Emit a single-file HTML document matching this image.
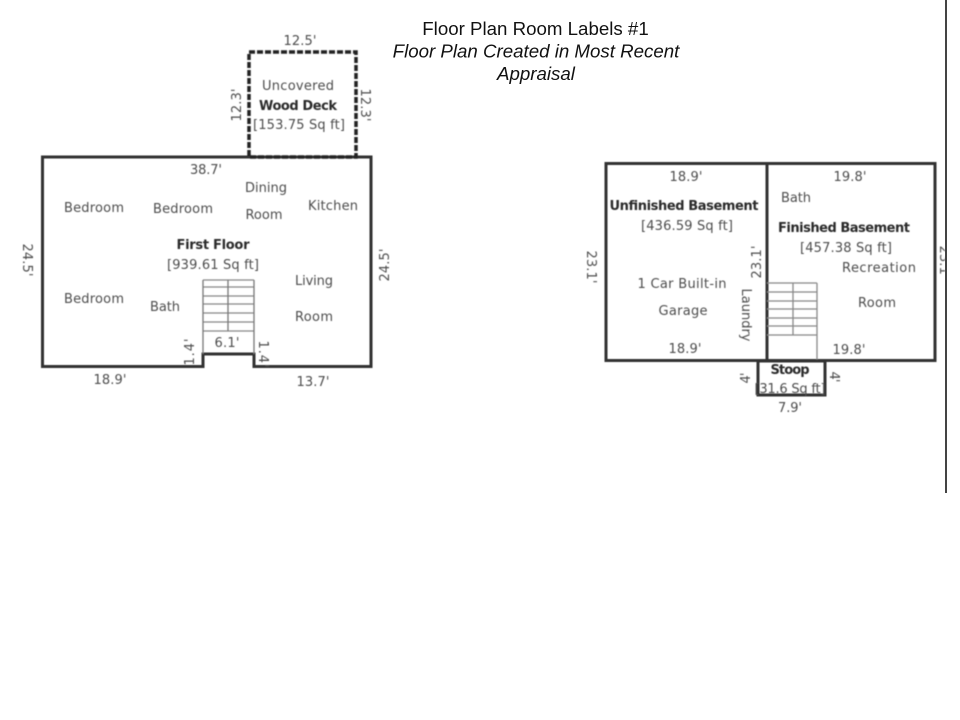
<!DOCTYPE html>
<html>
<head>
<meta charset="utf-8">
<style>
html,body{margin:0;padding:0;background:#fff;width:960px;height:720px;overflow:hidden}
svg{display:block}
.t{font-family:"DejaVu Sans",sans-serif;font-size:13px;fill:#4d4d4d;text-anchor:middle}
.b{font-weight:bold;fill:#2b2b2b}
.h{font-family:"Liberation Sans",sans-serif;font-size:18.7px;fill:#111;text-anchor:middle}
</style>
</head>
<body>
<svg width="960" height="720" viewBox="0 0 960 720" xmlns="http://www.w3.org/2000/svg">
<defs>
<filter id="s" x="-5%" y="-5%" width="110%" height="110%"><feGaussianBlur stdDeviation="0.65"/></filter>
<clipPath id="c"><rect x="930" y="200" width="15" height="120"/></clipPath>
</defs>
<rect width="960" height="720" fill="#fff"/>

<text class="h" x="535.500" y="35">Floor Plan Room Labels #1</text>
<text class="h" x="536" y="57.500" font-style="italic">Floor Plan Created in Most Recent</text>
<text class="h" x="536" y="80" font-style="italic">Appraisal</text>

<line x1="946" y1="0" x2="946" y2="493" stroke="#444" stroke-width="2"/>

<g filter="url(#s)">
  <!-- First floor -->
  <path d="M42.500 157H371V366.500H254V354H203V366.500H42.500Z" fill="none" stroke="#333" stroke-width="3"/>
  <rect x="249" y="52" width="107" height="105" fill="none" stroke="#222" stroke-width="3.500" stroke-dasharray="6 2"/>
  <path d="M203 280H254M203 287H254M203 296H254M203 304H254M203 313H254M203 322H254M203 331H254" stroke="#888" stroke-width="1.300"/>
  <path d="M203 280V354M254 280V354M228 280V331" stroke="#777" stroke-width="1.300" fill="none"/>

  <text class="t" x="300" y="45" textLength="33">12.5'</text>
  <text class="t" x="298" y="90" textLength="72">Uncovered</text>
  <text class="t b" x="298" y="110" textLength="78">Wood Deck</text>
  <text class="t" x="299" y="129" textLength="92">[153.75 Sq ft]</text>
  <text class="t" transform="translate(241 105) rotate(-90)" textLength="33">12.3'</text>
  <text class="t" transform="translate(361 105) rotate(90)" textLength="33">12.3'</text>
  <text class="t" x="206" y="174" textLength="32">38.7'</text>
  <text class="t" x="266" y="192" textLength="42">Dining</text>
  <text class="t" x="264" y="219" textLength="37">Room</text>
  <text class="t" x="333" y="210" textLength="50">Kitchen</text>
  <text class="t" x="94" y="212" textLength="60">Bedroom</text>
  <text class="t" x="183" y="213" textLength="60">Bedroom</text>
  <text class="t b" x="213" y="249" textLength="73">First Floor</text>
  <text class="t" x="213" y="269" textLength="92">[939.61 Sq ft]</text>
  <text class="t" x="314" y="285" textLength="38">Living</text>
  <text class="t" x="314" y="321" textLength="38">Room</text>
  <text class="t" x="94" y="303" textLength="60">Bedroom</text>
  <text class="t" x="165" y="311" textLength="30">Bath</text>
  <text class="t" x="227" y="347" textLength="25">6.1'</text>
  <text class="t" transform="translate(194 352) rotate(-90)" textLength="27">1.4'</text>
  <text class="t" transform="translate(259 354) rotate(90)" textLength="27">1.4'</text>
  <text class="t" x="110" y="384" textLength="33">18.9'</text>
  <text class="t" x="313" y="386" textLength="33">13.7'</text>
  <text class="t" transform="translate(23 260) rotate(90)" textLength="33">24.5'</text>
  <text class="t" transform="translate(389 265) rotate(-90)" textLength="33">24.5'</text>

  <!-- Basement -->
  <rect x="606" y="163.500" width="329" height="197" fill="none" stroke="#333" stroke-width="3"/>
  <line x1="767" y1="163" x2="767" y2="361" stroke="#333" stroke-width="3"/>
  <path d="M767 283H817M767 292H817M767 301H817M767 309H817M767 318H817M767 326H817M767 335H817" stroke="#888" stroke-width="1.300"/>
  <path d="M817 283V360M793 283V335" stroke="#888" stroke-width="1.300" fill="none"/>
  <rect x="758" y="361" width="67" height="34" fill="none" stroke="#333" stroke-width="3"/>

  <text class="t" x="686" y="181" textLength="33">18.9'</text>
  <text class="t" x="850" y="181" textLength="33">19.8'</text>
  <text class="t" x="796" y="202" textLength="30">Bath</text>
  <text class="t b" x="684" y="210" textLength="149">Unfinished Basement</text>
  <text class="t" x="687" y="230" textLength="92">[436.59 Sq ft]</text>
  <text class="t b" x="844" y="232" textLength="132">Finished Basement</text>
  <text class="t" x="846" y="252" textLength="92">[457.38 Sq ft]</text>
  <text class="t" x="879" y="272" textLength="74">Recreation</text>
  <text class="t" x="877" y="307" textLength="38">Room</text>
  <text class="t" x="682" y="288" textLength="89">1 Car Built-in</text>
  <text class="t" x="683" y="315" textLength="49">Garage</text>
  <text class="t" x="685" y="353" textLength="33">18.9'</text>
  <text class="t" x="849" y="354" textLength="33">19.8'</text>
  <text class="t" transform="translate(587 267) rotate(90)" textLength="33">23.1'</text>
  <text class="t" transform="translate(761 262) rotate(-90)" textLength="33">23.1'</text>
  <text class="t" transform="translate(742 315) rotate(90)" textLength="53">Laundry</text>
  <g clip-path="url(#c)"><text class="t" transform="translate(940 262) rotate(90)" textLength="33">23.1'</text></g>
  <text class="t b" x="790" y="374" textLength="39">Stoop</text>
  <text class="t" x="790" y="393" textLength="71">[31.6 Sq ft]</text>
  <text class="t" transform="translate(750 378) rotate(-90)" textLength="11">4'</text>
  <text class="t" transform="translate(830 377) rotate(90)" textLength="11">4'</text>
  <text class="t" x="790" y="412" textLength="24">7.9'</text>
</g>
</svg>
</body>
</html>
